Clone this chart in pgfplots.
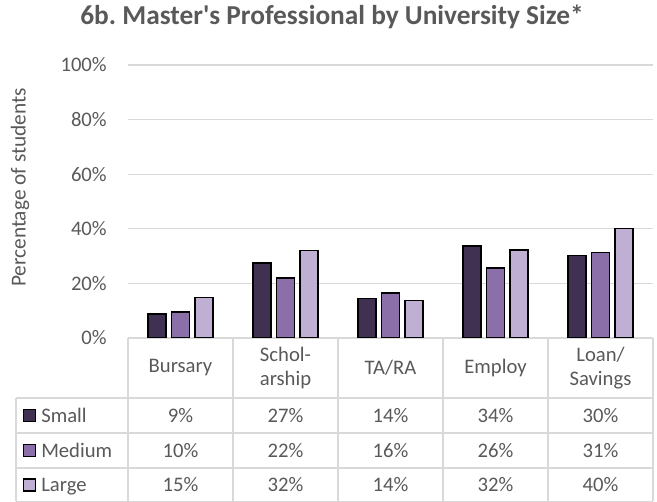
\documentclass[border=0pt]{standalone}
\usepackage{fontspec}
\setmainfont{Carlito}[Ligatures=TeXOff]
\usepackage{pgfplots}
\usepackage{pgfplotstable}
\pgfplotsset{compat=1.18}
\frenchspacing
\definecolor{txt}{HTML}{595959}
\definecolor{gridc}{HTML}{D9D9D9}
\definecolor{cSmall}{HTML}{403152}
\definecolor{cMedium}{HTML}{8B6FA9}
\definecolor{cLarge}{HTML}{BEAFD3}
\newcommand\lbl{\fontsize{15.5pt}{18.5pt}\selectfont}

% bar heights (table shows them rounded)
\pgfplotstableread{
idx Small Medium Large
0 8.8 9.6 14.9
1 27.4 22.0 32.0
2 14.4 16.4 13.7
3 33.7 25.6 32.3
4 30.3 31.4 40.2
}\datatable

\begin{document}
\begin{tikzpicture}
\useasboundingbox (0,0) rectangle (492.75pt,376.5pt);
\begin{axis}[
  at={(96pt,123pt)}, anchor=south west,
  scale only axis, width=393.75pt, height=204.75pt,
  xmin=-0.5, xmax=4.5, ymin=0, ymax=100,
  axis line style={draw=none},
  major tick length=0pt,
  ytick={0,20,...,100},
  yticklabel={\pgfmathprintnumber{\tick}\%},
  yticklabel style={font=\lbl, text=txt, anchor=east, inner sep=0pt, xshift=-15.75pt},
  /pgf/number format/assume math mode=true,
  xtick={0,...,4},
  xticklabels={Bursary, {Schol-\\arship}, TA/RA, Employ, {Loan/\\Savings}},
  xticklabel style={font=\lbl, text=txt, align=center, anchor=center, inner sep=0pt, yshift=-22.5pt},
  ymajorgrids, grid style={gridc, line width=0.9pt},
  ybar=4.3pt, bar width=13.4pt,
  title={6b. Master's Professional by University Size*},
  title style={font=\fontsize{20.5pt}{24pt}\selectfont\bfseries, text=txt, inner sep=0pt, at={(axis description cs:0.3885,1.1172)}, anchor=base},
  ylabel={Percentage of students},
  ylabel style={font=\fontsize{16pt}{19pt}\selectfont, text=txt, at={(axis description cs:-0.2057,0.551)}, anchor=center},
]
\addplot[fill=cSmall, draw=black, line width=1.1pt] table[x=idx, y=Small] {\datatable};
\addplot[fill=cMedium, draw=black, line width=1.1pt] table[x=idx, y=Medium] {\datatable};
\addplot[fill=cLarge, draw=black, line width=1.1pt] table[x=idx, y=Large] {\datatable};
\end{axis}

\begin{scope}[x=0.75pt, y=0.75pt]
% data table grid
\begin{scope}[gridc, line width=0.9pt]
\foreach \xx in {128,233,338,443,548,653} \draw (\xx,164) -- (\xx,0.5);
\draw (16,104) -- (16,0.5);
\foreach \yy in {104,69,34,0.5} \draw (16,\yy) -- (653,\yy);
\end{scope}

\foreach \sz/\yy in {Small/86.5, Medium/51.5, Large/17} {
  \node[fill=c\sz, draw=black, line width=0.9pt, minimum size=9pt, inner sep=0pt] at (29.5,\yy) {};
  \node[font=\lbl, text=txt, anchor=west, inner sep=0pt, text height=10pt, text depth=0pt] at (41,\yy) {\sz};
  \foreach \c in {0,...,4} {
    \pgfplotstablegetelem{\c}{\sz}\of\datatable
    \node[font=\lbl, text=txt, inner sep=0pt, text height=10pt, text depth=0pt] at (180.5+105*\c,\yy)
      {\pgfmathprintnumber[fixed,precision=0,assume math mode=true]{\pgfplotsretval}\%};
  }
}
\end{scope}
\end{tikzpicture}
\end{document}
